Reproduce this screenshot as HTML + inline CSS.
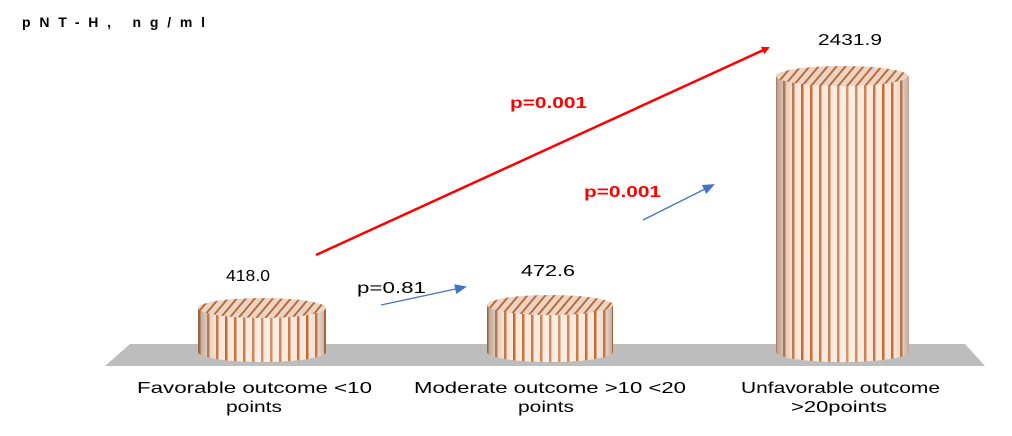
<!DOCTYPE html>
<html><head><style>body{margin:0;background:#fff}svg{display:block}</style></head><body>
<svg width="1012" height="436" viewBox="0 0 1012 436" xmlns="http://www.w3.org/2000/svg" font-family="Liberation Sans, sans-serif">
<defs>
<pattern id="st" width="9" height="10" patternUnits="userSpaceOnUse">
<rect width="9" height="10" fill="#fbe6d8"/><rect x="0" width="2.5" height="10" fill="#c0692e"/>
</pattern>
<pattern id="st2" width="9" height="10" patternUnits="userSpaceOnUse" patternTransform="skewX(-40)">
<rect width="9" height="10" fill="#ecd4c4"/><rect x="0" width="2.5" height="10" fill="#b86a38"/>
</pattern>
<linearGradient id="sh" x1="0" x2="1">
<stop offset="0" stop-color="#7a5a48" stop-opacity="0.55"/>
<stop offset="0.2" stop-color="#fff" stop-opacity="0"/>
<stop offset="0.55" stop-color="#fff" stop-opacity="0.3"/>
<stop offset="0.85" stop-color="#fff" stop-opacity="0"/>
<stop offset="1" stop-color="#7a5a48" stop-opacity="0.45"/>
</linearGradient>
<marker id="ar" markerWidth="8" markerHeight="8" refX="6" refY="4" orient="auto" markerUnits="userSpaceOnUse"><path d="M0,0 L8,4 L0,8z" fill="#f00"/></marker>
<marker id="ab" markerWidth="12" markerHeight="10" refX="10" refY="5" orient="auto" markerUnits="userSpaceOnUse"><path d="M0,0 L12,5 L0,10z" fill="#4472c4"/></marker>
</defs>
<text x="22" y="27" font-size="14" font-weight="bold" textLength="183" lengthAdjust="spacing">pNT-H, ng/ml</text>
<polygon points="130,344 965,344 985,366 105,366" fill="#bdbdbd"/>
<g>
<path d="M198,308 L198,352 A64,10 0 0 0 326,352 L326,308z" fill="url(#st)"/>
<path d="M198,308 L198,352 A64,10 0 0 0 326,352 L326,308z" fill="url(#sh)"/>
<ellipse cx="262" cy="308" rx="64" ry="10" fill="url(#st2)"/>
</g>
<g>
<path d="M487,305 L487,352 A63,10 0 0 0 613,352 L613,305z" fill="url(#st)"/>
<path d="M487,305 L487,352 A63,10 0 0 0 613,352 L613,305z" fill="url(#sh)"/>
<ellipse cx="550" cy="305" rx="63" ry="10" fill="url(#st2)"/>
</g>
<g>
<path d="M776,76 L776,352 A66,10 0 0 0 909,352 L909,76z" fill="url(#st)"/>
<path d="M776,76 L776,352 A66,10 0 0 0 909,352 L909,76z" fill="url(#sh)"/>
<ellipse cx="842" cy="76" rx="66" ry="10" fill="url(#st2)"/>
</g>
<g font-size="16" lengthAdjust="spacingAndGlyphs">
<text x="226" y="281" textLength="44" lengthAdjust="spacingAndGlyphs">418.0</text>
<text x="521" y="276" textLength="54" lengthAdjust="spacingAndGlyphs">472.6</text>
<text x="818" y="45" textLength="64" lengthAdjust="spacingAndGlyphs">2431.9</text>
<text x="357" y="293" textLength="69" lengthAdjust="spacingAndGlyphs">p=0.81</text>
<text x="510" y="108" font-weight="bold" fill="#f00" textLength="77" lengthAdjust="spacingAndGlyphs">p=0.001</text>
<text x="584" y="197" font-weight="bold" fill="#f00" textLength="77" lengthAdjust="spacingAndGlyphs">p=0.001</text>
<text x="137" y="393" textLength="235" lengthAdjust="spacingAndGlyphs">Favorable outcome  &lt;10</text>
<text x="226" y="412" textLength="56" lengthAdjust="spacingAndGlyphs">points</text>
<text x="414" y="393" textLength="272" lengthAdjust="spacingAndGlyphs">Moderate outcome &gt;10 &lt;20</text>
<text x="518" y="412" textLength="56" lengthAdjust="spacingAndGlyphs">points</text>
<text x="741" y="393" textLength="199" lengthAdjust="spacingAndGlyphs">Unfavorable outcome</text>
<text x="791" y="412" textLength="96" lengthAdjust="spacingAndGlyphs">&gt;20points</text>
</g>
<line x1="316" y1="255" x2="768" y2="48" stroke="#f00" stroke-width="2.5" marker-end="url(#ar)"/>
<line x1="381" y1="305" x2="465" y2="287" stroke="#4472c4" stroke-width="1.3" marker-end="url(#ab)"/>
<line x1="643" y1="220" x2="713" y2="185" stroke="#4472c4" stroke-width="1.3" marker-end="url(#ab)"/>
</svg>
</body></html>
